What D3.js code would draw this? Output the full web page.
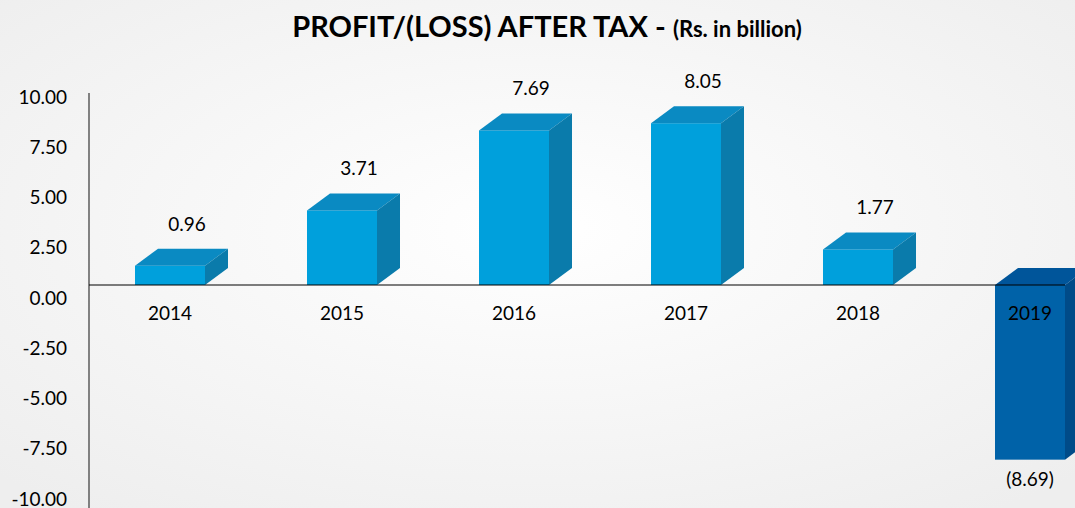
<!DOCTYPE html>
<html>
<head>
<meta charset="utf-8">
<script src="https://cdn.jsdelivr.net/npm/d3@7"></script>
<style>
  html, body { margin: 0; padding: 0; }
  body { width: 1075px; height: 508px; overflow: hidden; font-family: Lato, "Open Sans", sans-serif; }
</style>
</head>
<body>
<script>
const years = ["2014", "2015", "2016", "2017", "2018", "2019"];
const profit = [0.96, 3.71, 7.69, 8.05, 1.77, -8.69];
const labels = ["0.96", "3.71", "7.69", "8.05", "1.77", "(8.69)"];
const yTicks = [10, 7.5, 5, 2.5, 0, -2.5, -5, -7.5, -10];

let w = 1075;
let h = 508;
const dx = 23, dy = 17, barW = 70, shift = -13;

const svg = d3.select("body")
  .append("svg")
  .attr("width", w)
  .attr("height", h);

// background
const defs = svg.append("defs");
const grad = defs.append("radialGradient")
  .attr("id", "bg")
  .attr("cx", "50%").attr("cy", "45%").attr("r", "70%");
grad.append("stop").attr("offset", "0%").attr("stop-color", "#ffffff");
grad.append("stop").attr("offset", "100%").attr("stop-color", "#eeeeee");
svg.append("rect").attr("width", w).attr("height", h).attr("fill", "url(#bg)");

// title
const title = svg.append("text")
  .attr("x", 547).attr("y", 37)
  .attr("text-anchor", "middle")
  .attr("font-weight", "bold")
  .attr("fill", "#000");
title.append("tspan").attr("font-size", 29).text("PROFIT/(LOSS) AFTER TAX - ");
title.append("tspan").attr("font-size", 22).text("(Rs. in billion)");

const x = d3.scalePoint().domain(years).range([170, 1030]);
const y = d3.scaleLinear().domain([-10, 10]).range([499, 97]);

// y axis labels
svg.append("g")
  .attr("transform", "translate(89,0)")
  .call(d3.axisLeft(y).tickValues(yTicks).tickSize(0).tickPadding(22)
    .tickFormat(d => d3.format(".2f")(d).replace("\u2212", "-")))
  .call(g => g.select(".domain").remove())
  .selectAll("text")
  .attr("font-family", "Lato, 'Open Sans', sans-serif")
  .attr("font-size", 19)
  .attr("fill", "#000");

svg.append("line")
  .attr("x1", 89).attr("x2", 89)
  .attr("y1", 93).attr("y2", h)
  .attr("stroke", "#444").attr("stroke-width", 1.3);

const plot = svg.append("g").attr("transform", `translate(0,${shift})`);
const data = years.map((yr, i) => ({ yr: yr, v: profit[i], lab: labels[i] }));

const colors = d => d.v < 0
  ? { front: "#0062a8", top: "#00559a", side: "#004b88" }
  : { front: "#00a0dc", top: "#0a8ac2", side: "#0a7bab" };

const bars = plot.selectAll("g.bar")
  .data(data)
  .enter()
  .append("g")
  .attr("class", "bar");

bars.each(function(d) {
  const g = d3.select(this);
  const x0 = x(d.yr) - barW / 2, x1 = x(d.yr) + barW / 2;
  const yt = y(Math.max(d.v, 0)), yb = y(Math.min(d.v, 0));
  const c = colors(d);
  g.append("rect")
    .attr("x", x0).attr("y", yt)
    .attr("width", barW).attr("height", yb - yt)
    .attr("fill", c.front);
  g.append("polygon")
    .attr("points", [[x0, yt], [x1, yt], [x1 + dx, yt - dy], [x0 + dx, yt - dy]].join(" "))
    .attr("fill", c.top);
  g.append("polygon")
    .attr("points", [[x1, yt], [x1 + dx, yt - dy], [x1 + dx, yb - dy], [x1, yb]].join(" "))
    .attr("fill", c.side);
});

// zero line
plot.append("line")
  .attr("x1", 89).attr("x2", 1065)
  .attr("y1", y(0)).attr("y2", y(0))
  .attr("stroke", "#000").attr("stroke-width", 1.2);

// category labels
plot.selectAll("text.cat")
  .data(data)
  .enter()
  .append("text")
  .attr("class", "cat")
  .attr("x", d => x(d.yr))
  .attr("y", y(0) + 35)
  .attr("text-anchor", "middle")
  .attr("font-size", 19)
  .text(d => d.yr);

// value labels
plot.selectAll("text.val")
  .data(data)
  .enter()
  .append("text")
  .attr("class", "val")
  .attr("x", d => d.v < 0 ? x(d.yr) : x(d.yr) + 17)
  .attr("y", d => d.v < 0 ? y(d.v) + 26 : y(d.v) - 35)
  .attr("text-anchor", "middle")
  .attr("font-size", 19)
  .text(d => d.lab);
</script>
</body>
</html>
